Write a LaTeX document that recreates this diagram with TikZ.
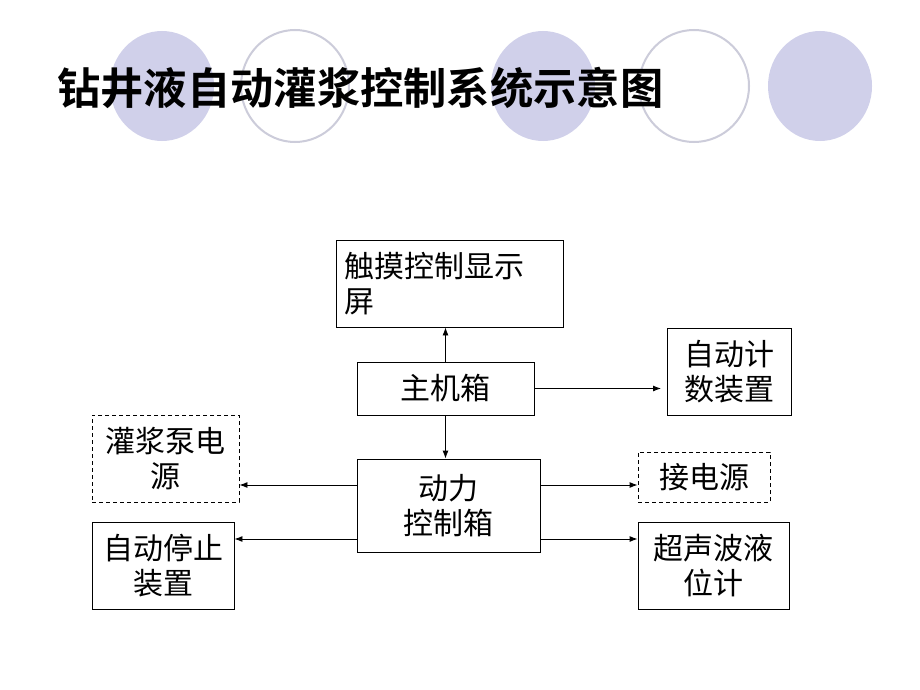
\documentclass[tikz,border=0pt]{standalone}
\usepackage{fontspec}
\newfontfamily\cjk{Noto Sans CJK SC}
\newfontfamily\cjkb{Noto Sans CJK SC Bold}
\usetikzlibrary{arrows.meta}
\definecolor{lav}{RGB}{208,208,234}
\definecolor{lavline}{RGB}{204,204,218}
\tikzset{
  box/.style={draw=black, line width=0.9pt, inner sep=0pt, align=center,
    font=\cjk\fontsize{30}{35}\selectfont},
  dbox/.style={box, dashed, dash pattern=on 4pt off 3pt},
  arr/.style={line width=0.9pt, -{Latex[length=8pt,width=6pt]}},
  fcirc/.style={fill=lav, draw=none},
  ocirc/.style={draw=lavline, line width=2pt, fill=white}
}
\begin{document}
\begin{tikzpicture}[x=1pt,y=-1pt]
\useasboundingbox[fill=white] (0,0) rectangle (920,690);
% decorative ellipses
\path[fcirc] (162,86) ellipse [x radius=52, y radius=55];
\path[ocirc] (295,86) ellipse [x radius=54, y radius=56];
\path[fcirc] (543,86) ellipse [x radius=52, y radius=55];
\path[ocirc] (694,86) ellipse [x radius=55, y radius=56];
\path[fcirc] (820,86) ellipse [x radius=52, y radius=55];
% title
\node[anchor=west, inner sep=0pt, font=\cjkb\fontsize{43.3}{43}\selectfont] (title) at (57,88) {钻井液自动灌浆控制系统示意图};
% boxes
\node[box, minimum width=227, minimum height=87, text width=210, align=left] (screen) at (449.5,283.5) {触摸控制显示\\屏};
\node[box, minimum width=177, minimum height=53] (host) at (445.5,388.5) {主机箱};
\node[box, minimum width=124, minimum height=87] (counter) at (729,371.5) {自动计\\数装置};
\node[dbox, minimum width=147, minimum height=87] (pump) at (165.5,458.5) {灌浆泵电\\源};
\node[box, minimum width=183, minimum height=93] (power) at (448.5,505.5) {动力\\控制箱};
\node[dbox, minimum width=132, minimum height=50] (elec) at (704,477) {接电源};
\node[box, minimum width=142, minimum height=87] (stop) at (163,565.5) {自动停止\\装置};
\node[box, minimum width=151, minimum height=87] (sonic) at (713.5,565.5) {超声波液\\位计};
% connectors
\coordinate (cntL) at (661,388);
\draw[arr] (host.north) -- (host.north |- screen.south);
\draw[arr] (host.east) -- (host.east -| cntL);
\draw[arr] (host.south) -- (host.south |- power.north);
\coordinate (pwL1) at (357,485);
\coordinate (pwL2) at (357,539);
\coordinate (pwR1) at (540,485);
\coordinate (pwR2) at (540,539);
\draw[arr] (pwL1) -- (pwL1 -| pump.east);
\draw[arr] (pwL2) -- (pwL2 -| stop.east);
\draw[arr] (pwR1) -- (pwR1 -| elec.west);
\draw[arr] (pwR2) -- (pwR2 -| sonic.west);
\end{tikzpicture}
\end{document}
